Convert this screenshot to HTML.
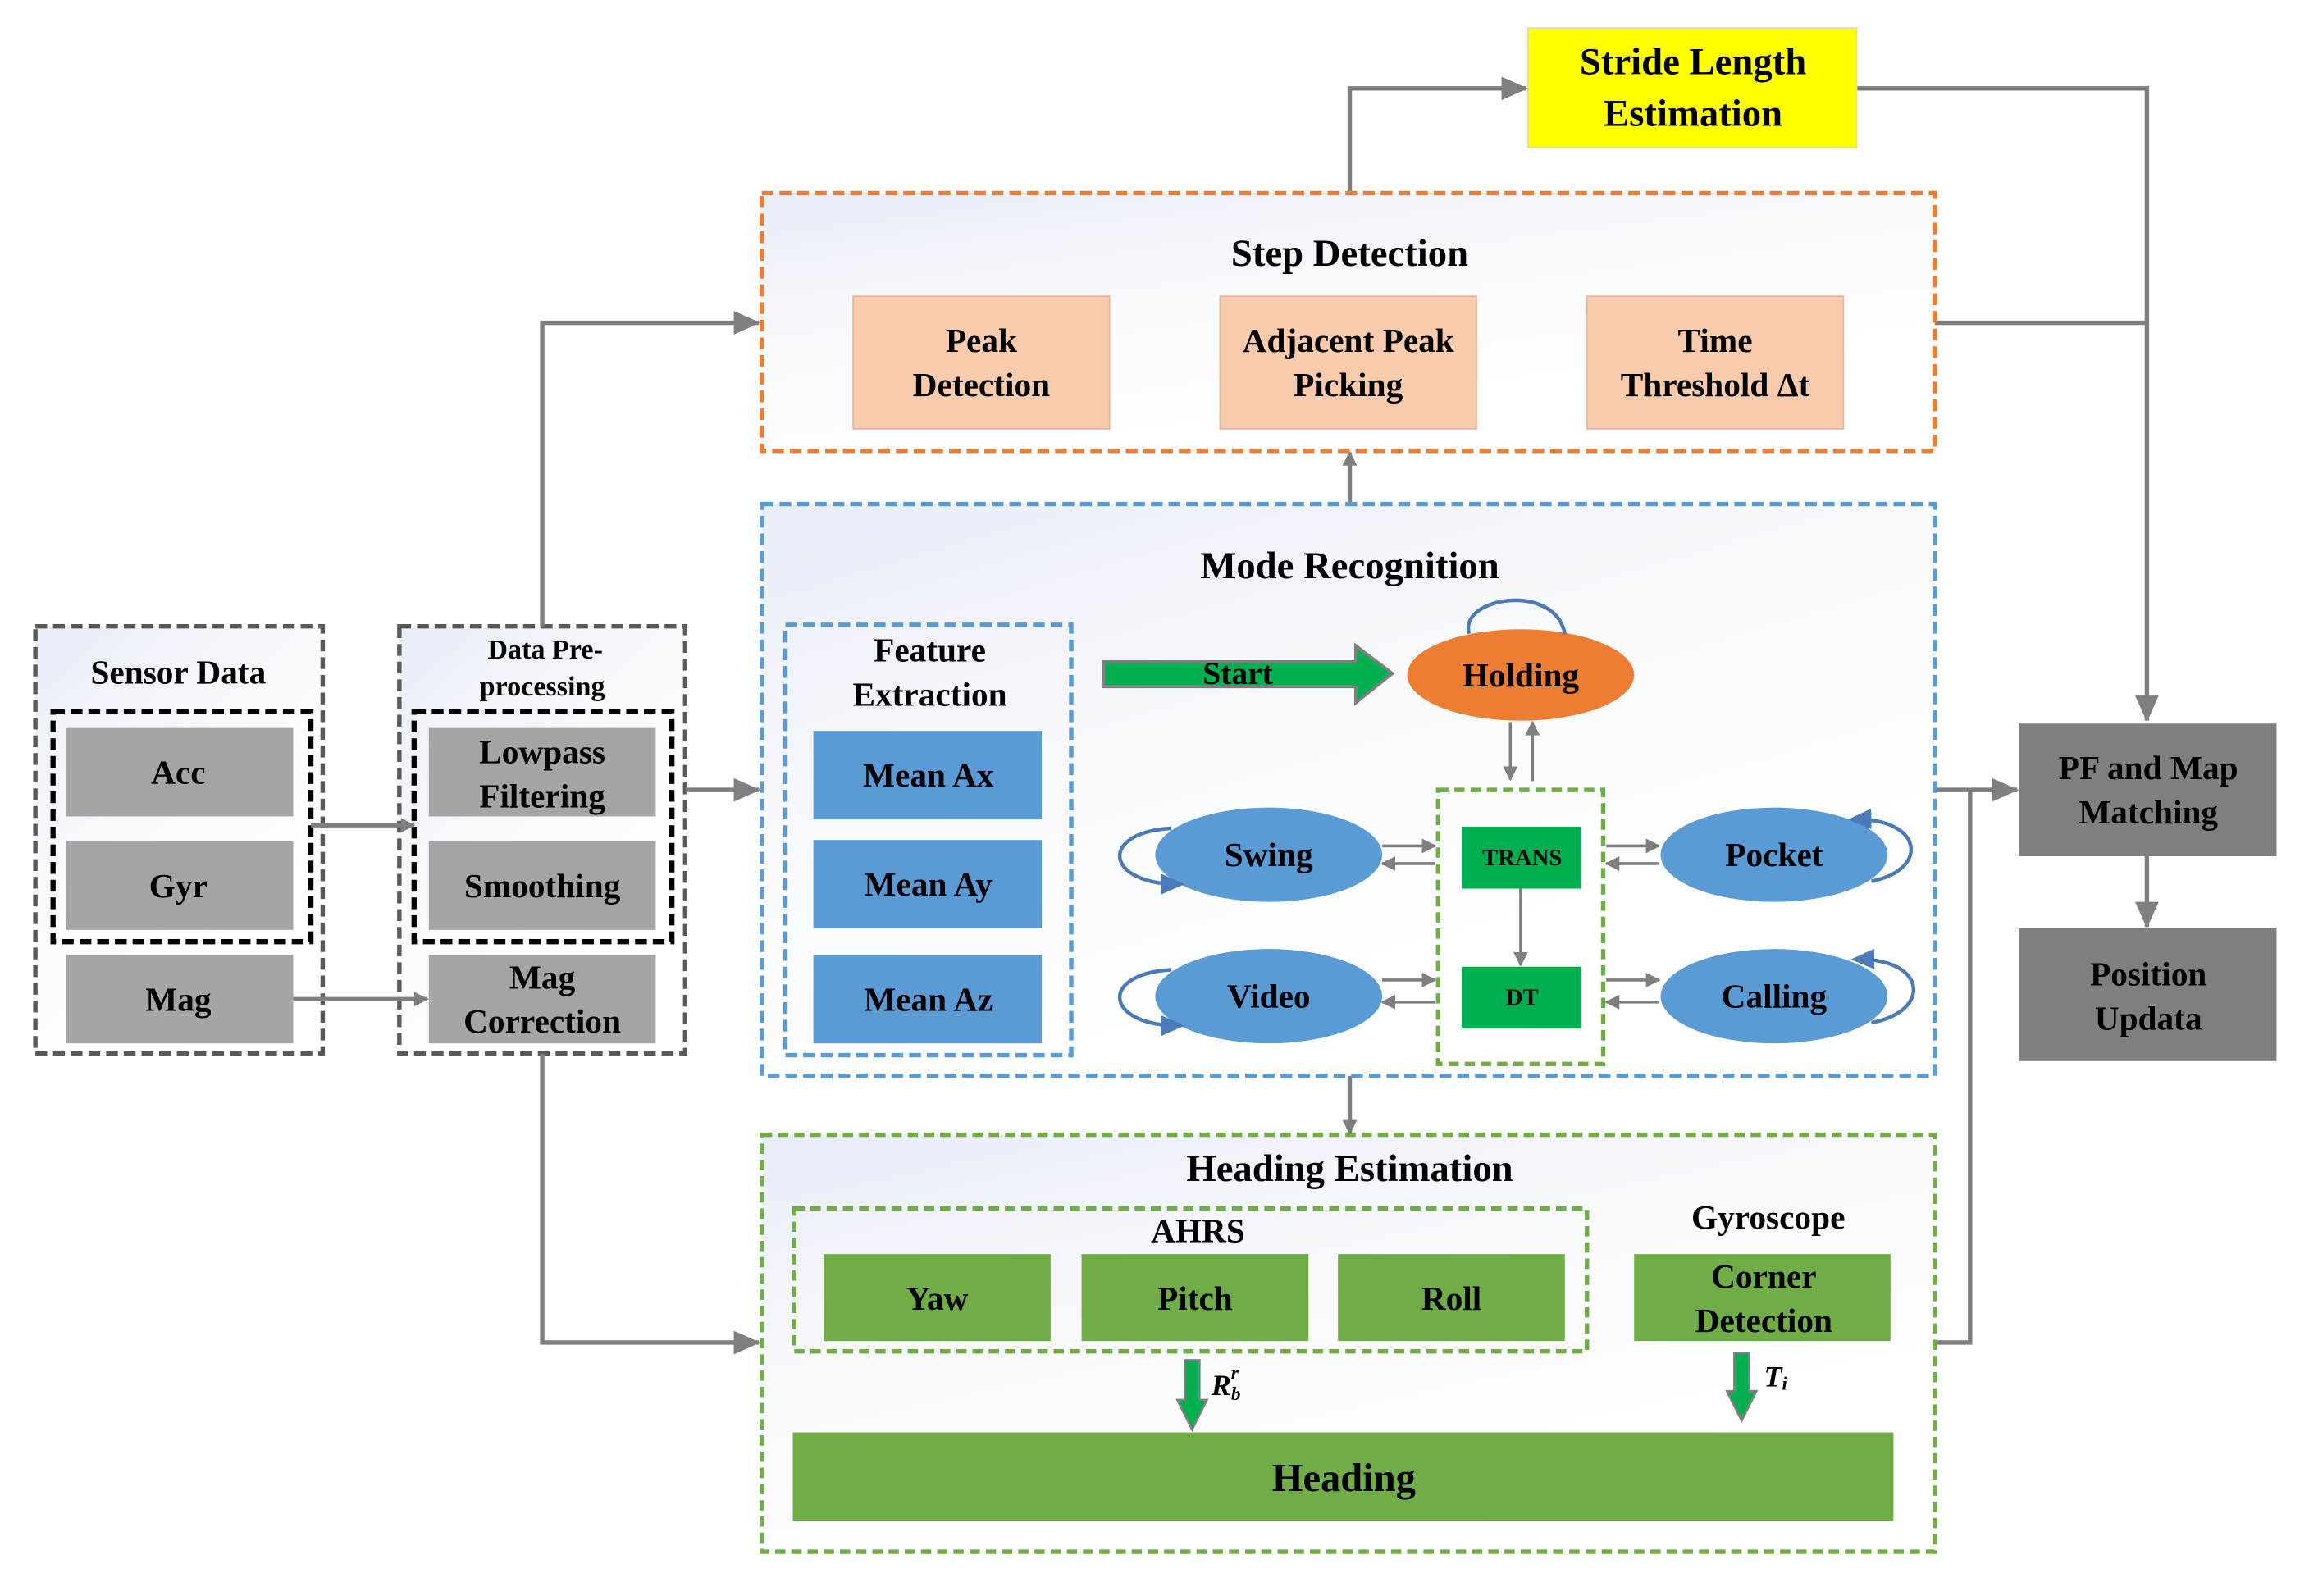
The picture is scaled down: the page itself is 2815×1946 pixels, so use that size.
<!DOCTYPE html>
<html><head><meta charset="utf-8"><style>
html,body{margin:0;padding:0;background:#fff;}
svg{display:block;}
text{font-family:"Liberation Serif",serif;font-weight:bold;fill:#000;text-anchor:middle;dominant-baseline:central;}
</style></head><body>
<svg width="2815" height="1946" viewBox="0 0 1567 1083" preserveAspectRatio="none" xmlns="http://www.w3.org/2000/svg">
<defs>
<linearGradient id="bg" x1="0" y1="0" x2="0.6" y2="1"><stop offset="0" stop-color="#e8edf6"/><stop offset="0.5" stop-color="#fafbfe"/><stop offset="1" stop-color="#fff"/></linearGradient>
<marker id="ah" markerWidth="10" markerHeight="10" refX="9" refY="5" orient="auto" markerUnits="userSpaceOnUse"><path d="M0,0 L10,5 L0,10 z" fill="#7f7f7f"/></marker>
<marker id="ahs" markerWidth="18" markerHeight="16" refX="17" refY="8" orient="auto" markerUnits="userSpaceOnUse"><path d="M0,0 L18,8 L0,16 z" fill="#7f7f7f"/></marker>
<marker id="bh" markerWidth="16" markerHeight="14" refX="12" refY="7" orient="auto" markerUnits="userSpaceOnUse"><path d="M0,0 L16,7 L0,14 z" fill="#4a7ab8"/></marker>
</defs>
<rect width="1600" height="1100" fill="#fff"/>

<rect x="24" y="425" width="195" height="290" fill="url(#bg)" stroke="#595959" stroke-width="3" stroke-dasharray="8,4"/>
<text x="121" y="456" font-size="23">Sensor Data</text>
<rect x="36" y="483" width="175" height="156" fill="none" stroke="#000" stroke-width="3.5" stroke-dasharray="8,4"/>
<rect x="45" y="494" width="154" height="60" fill="#a5a5a5"/><text x="121" y="524" font-size="23">Acc</text>
<rect x="45" y="571" width="154" height="60" fill="#a5a5a5"/><text x="121" y="601" font-size="23">Gyr</text>
<rect x="45" y="648" width="154" height="60" fill="#a5a5a5"/><text x="121" y="678" font-size="23">Mag</text>

<rect x="271" y="425" width="194" height="290" fill="url(#bg)" stroke="#595959" stroke-width="3" stroke-dasharray="8,4"/>
<text x="370" y="441" font-size="19">Data Pre-</text>
<text x="368" y="466" font-size="19">processing</text>
<rect x="281" y="483" width="175" height="156" fill="none" stroke="#000" stroke-width="3.5" stroke-dasharray="8,4"/>
<rect x="291" y="494" width="154" height="60" fill="#a5a5a5"/><text x="368" y="510" font-size="23">Lowpass</text><text x="368" y="540" font-size="23">Filtering</text>
<rect x="291" y="571" width="154" height="60" fill="#a5a5a5"/><text x="368" y="601" font-size="23">Smoothing</text>
<rect x="291" y="648" width="154" height="60" fill="#a5a5a5"/><text x="368" y="663" font-size="23">Mag</text><text x="368" y="693" font-size="23">Correction</text>

<g stroke="#7f7f7f" stroke-width="3" fill="none">
<line x1="211" y1="560" x2="281" y2="560" marker-end="url(#ah)"/>
<line x1="199" y1="678" x2="290" y2="678" marker-end="url(#ah)"/>
<line x1="465" y1="536" x2="515" y2="536" marker-end="url(#ahs)"/>
<polyline points="368,425 368,219 515,219" marker-end="url(#ahs)"/>
<polyline points="368,715 368,911 515,911" marker-end="url(#ahs)"/>
<polyline points="916,131 916,60 1036,60" marker-end="url(#ahs)"/>
<polyline points="1260,60 1457,60 1457,489" marker-end="url(#ahs)"/>
<line x1="1313" y1="219" x2="1457" y2="219"/>
<line x1="916" y1="342" x2="916" y2="307" marker-end="url(#ah)"/>
<line x1="916" y1="730" x2="916" y2="769" marker-end="url(#ah)"/>
<polyline points="1313,911 1337,911 1337,536"/>
<line x1="1313" y1="536" x2="1369" y2="536" marker-end="url(#ahs)"/>
<line x1="1457" y1="581" x2="1457" y2="629" marker-end="url(#ahs)"/>
</g>

<rect x="1037" y="19" width="223" height="81" fill="#ffff00" stroke="#e0e0a0" stroke-width="1"/>
<text x="1149" y="42" font-size="26">Stride Length</text><text x="1149" y="77" font-size="26">Estimation</text>

<rect x="517" y="131" width="796" height="175" fill="url(#bg)" stroke="#ed7d31" stroke-width="3" stroke-dasharray="8,4"/>
<text x="916" y="172" font-size="26">Step  Detection</text>
<rect x="579" y="201" width="174" height="90" fill="#f8cbad" stroke="#e8b898"/><text x="666" y="231" font-size="23">Peak</text><text x="666" y="261" font-size="23">Detection</text>
<rect x="828" y="201" width="174" height="90" fill="#f8cbad" stroke="#e8b898"/><text x="915" y="231" font-size="23">Adjacent Peak</text><text x="915" y="261" font-size="23">Picking</text>
<rect x="1077" y="201" width="174" height="90" fill="#f8cbad" stroke="#e8b898"/><text x="1164" y="231" font-size="23">Time</text><text x="1164" y="261" font-size="23">Threshold Δt</text>

<rect x="517" y="342" width="796" height="388" fill="url(#bg)" stroke="#5b9bd5" stroke-width="3" stroke-dasharray="8,4"/>
<text x="916" y="384" font-size="26">Mode Recognition</text>
<rect x="533" y="424" width="194" height="292" fill="none" stroke="#5b9bd5" stroke-width="3" stroke-dasharray="8,4"/>
<text x="631" y="441" font-size="23">Feature</text><text x="631" y="471" font-size="23">Extraction</text>
<rect x="552" y="496" width="155" height="60" fill="#5b9bd5"/><text x="630" y="526" font-size="23">Mean Ax</text>
<rect x="552" y="570" width="155" height="60" fill="#5b9bd5"/><text x="630" y="600" font-size="23">Mean Ay</text>
<rect x="552" y="648" width="155" height="60" fill="#5b9bd5"/><text x="630" y="678" font-size="23">Mean Az</text>

<path d="M749,449 L920,449 L920,438 L945,457 L920,477 L920,466 L749,466 z" fill="#00b050" stroke="#7f7f7f" stroke-width="2"/>
<text x="840" y="457" font-size="22">Start</text>
<ellipse cx="1032" cy="458" rx="77" ry="31" fill="#ed7d31"/><text x="1032" y="458" font-size="23">Holding</text>
<path d="M997,430 C990,405 1055,395 1062,430" fill="none" stroke="#4a7ab8" stroke-width="2.5"/>

<rect x="976" y="536" width="112" height="186" fill="none" stroke="#70ad47" stroke-width="3" stroke-dasharray="7,4"/>
<rect x="992" y="561" width="81" height="42" fill="#00b050"/><text x="1033" y="582" font-size="16" font-weight="normal">TRANS</text>
<rect x="992" y="656" width="81" height="42" fill="#00b050"/><text x="1033" y="677" font-size="16" font-weight="normal">DT</text>

<g stroke="#7f7f7f" stroke-width="2" fill="none">
<line x1="1025" y1="490" x2="1025" y2="529" marker-end="url(#ah)"/>
<line x1="1040" y1="530" x2="1040" y2="490" marker-end="url(#ah)"/>
<line x1="1032" y1="603" x2="1032" y2="655" marker-end="url(#ah)"/>
<line x1="938" y1="574" x2="974" y2="574" marker-end="url(#ah)"/>
<line x1="974" y1="586" x2="938" y2="586" marker-end="url(#ah)"/>
<line x1="938" y1="665" x2="974" y2="665" marker-end="url(#ah)"/>
<line x1="974" y1="680" x2="938" y2="680" marker-end="url(#ah)"/>
<line x1="1090" y1="574" x2="1126" y2="574" marker-end="url(#ah)"/>
<line x1="1126" y1="586" x2="1090" y2="586" marker-end="url(#ah)"/>
<line x1="1090" y1="665" x2="1126" y2="665" marker-end="url(#ah)"/>
<line x1="1126" y1="680" x2="1090" y2="680" marker-end="url(#ah)"/>
</g>
<ellipse cx="861" cy="580" rx="77" ry="32" fill="#5b9bd5"/><text x="861" y="580" font-size="23">Swing</text>
<ellipse cx="1204" cy="580" rx="77" ry="32" fill="#5b9bd5"/><text x="1204" y="580" font-size="23">Pocket</text>
<ellipse cx="861" cy="676" rx="77" ry="32" fill="#5b9bd5"/><text x="861" y="676" font-size="23">Video</text>
<ellipse cx="1204" cy="676" rx="77" ry="32" fill="#5b9bd5"/><text x="1204" y="676" font-size="23">Calling</text>
<g fill="none" stroke="#4a7ab8" stroke-width="2.5">
<path d="M795,562 C745,565 750,600 800,600" marker-end="url(#bh)"/>
<path d="M795,658 C745,661 750,696 800,696" marker-end="url(#bh)"/>
<path d="M1270,598 C1310,590 1305,555 1258,556" marker-end="url(#bh)"/>
<path d="M1270,694 C1312,686 1307,650 1260,651" marker-end="url(#bh)"/>
</g>

<rect x="517" y="770" width="796" height="283" fill="url(#bg)" stroke="#70ad47" stroke-width="3" stroke-dasharray="7,4"/>
<text x="916" y="793" font-size="26">Heading Estimation</text>
<rect x="539" y="820" width="538" height="97" fill="none" stroke="#70ad47" stroke-width="3" stroke-dasharray="7,4"/>
<text x="813" y="835" font-size="23">AHRS</text>
<text x="1200" y="826" font-size="23" font-weight="normal">Gyroscope</text>
<rect x="559" y="851" width="154" height="59" fill="#70ad47"/><text x="636" y="881" font-size="23">Yaw</text>
<rect x="734" y="851" width="154" height="59" fill="#70ad47"/><text x="811" y="881" font-size="23">Pitch</text>
<rect x="908" y="851" width="154" height="59" fill="#70ad47"/><text x="985" y="881" font-size="23">Roll</text>
<rect x="1109" y="851" width="174" height="59" fill="#70ad47"/><text x="1197" y="866" font-size="23">Corner</text><text x="1197" y="896" font-size="23">Detection</text>
<rect x="538" y="972" width="747" height="60" fill="#70ad47"/><text x="912" y="1003" font-size="27">Heading</text>
<path d="M804,923 L814,923 L814,950 L819,950 L809,970 L799,950 L804,950 z" fill="#00b050" stroke="#7f7f7f" stroke-width="1.5"/>
<path d="M1177,918 L1187,918 L1187,944 L1192,944 L1182,964 L1172,944 L1177,944 z" fill="#00b050" stroke="#7f7f7f" stroke-width="1.5"/>
<text x="832" y="940" font-size="20" font-style="italic" font-weight="normal">R<tspan font-size="13" dy="-8">r</tspan><tspan font-size="13" dx="-5" dy="14">b</tspan></text>
<text x="1205" y="934" font-size="20" font-style="italic" font-weight="normal">T<tspan font-size="13" dy="5">i</tspan></text>

<rect x="1370" y="491" width="175" height="90" fill="#7f7f7f"/><text x="1458" y="521" font-size="23">PF and Map</text><text x="1458" y="551" font-size="23">Matching</text>
<rect x="1370" y="630" width="175" height="90" fill="#7f7f7f"/><text x="1458" y="661" font-size="23">Position</text><text x="1458" y="691" font-size="23">Updata</text>
</svg>
</body></html>
